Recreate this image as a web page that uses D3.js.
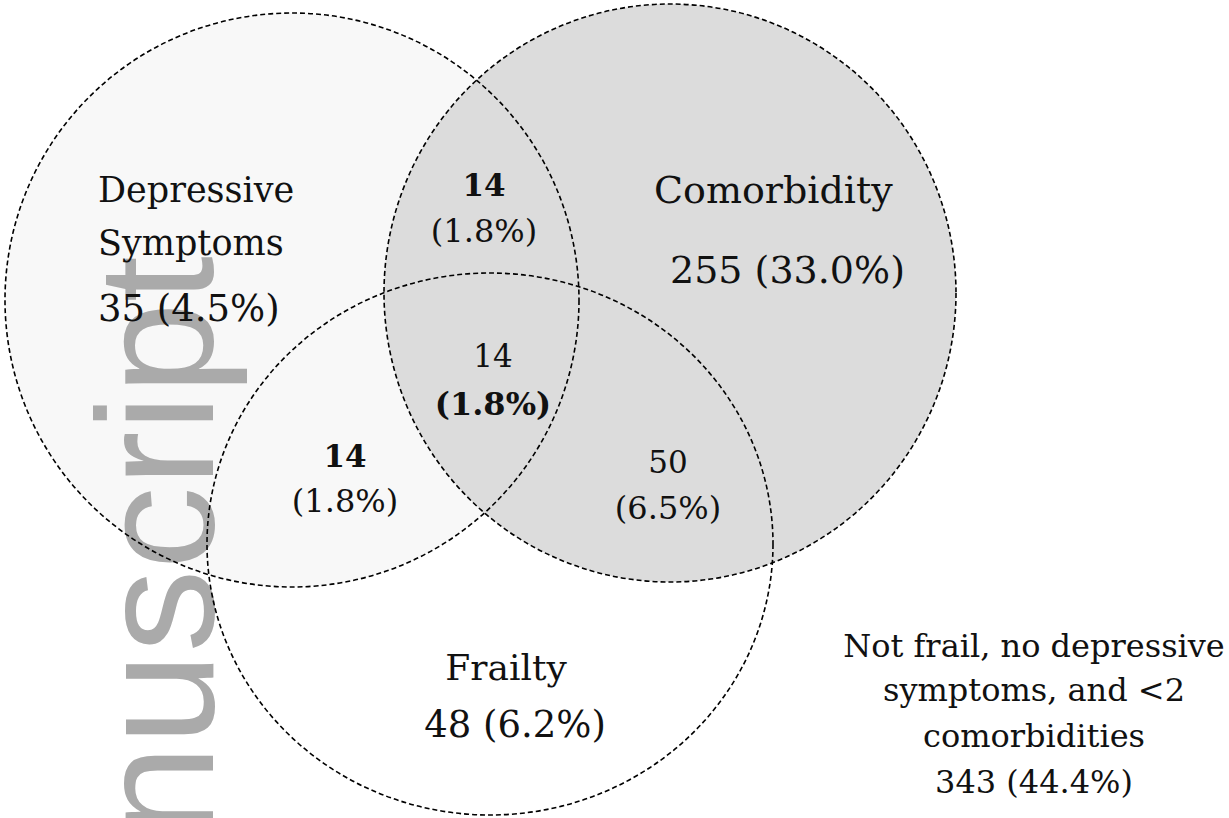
<!DOCTYPE html>
<html>
<head>
<meta charset="utf-8">
<script src="https://cdn.jsdelivr.net/npm/d3@7"></script>
<style>
  html, body { margin: 0; padding: 0; background: #ffffff; }
  svg { display: block; }
</style>
</head>
<body>
<script>
// ---------------- DATA ----------------
const setNames = ["Depressive Symptoms", "Comorbidity", "Frailty"];
const onlyCounts = [35, 255, 48];
const onlyPcts = [4.5, 33.0, 6.2];
const pairNames = ["Depressive ∩ Comorbidity", "Depressive ∩ Frailty", "Comorbidity ∩ Frailty"];
const pairCounts = [14, 14, 50];
const pairPcts = [1.8, 1.8, 6.5];
const tripleCount = [14];
const triplePct = [1.8];
const noneLabelLines = ["Not frail, no depressive", "symptoms, and <2", "comorbidities"];
const noneCount = [343];
const nonePct = [44.4];

// ---------------- LAYOUT (abstract units -> pixels via scales) ----------------
const W = 1229, H = 818;
const x = d3.scaleLinear().domain([0, 1229]).range([0, W]);
const y = d3.scaleLinear().domain([0, 818]).range([0, H]);

const circleLayout = [
  { cx: 292, cy: 300, rx: 287, ry: 287, fill: "#f8f8f8" },
  { cx: 670, cy: 293, rx: 286, ry: 289, fill: "#dcdcdc" },
  { cx: 490, cy: 544, rx: 283, ry: 271, fill: "none" }
];

const svg = d3.select("body").append("svg")
  .attr("width", W).attr("height", H)
  .attr("viewBox", `0 0 ${W} ${H}`);

const serif = "'DejaVu Serif', 'Liberation Serif', serif";

// fills
svg.append("g").selectAll("ellipse")
  .data(circleLayout)
  .join("ellipse")
  .attr("cx", d => x(d.cx)).attr("cy", d => y(d.cy))
  .attr("rx", d => x(d.rx) - x(0)).attr("ry", d => y(d.ry) - y(0))
  .attr("fill", d => d.fill)
  .attr("stroke", "none");

// watermark (cut off at the bottom edge, as in the reference)
svg.append("text")
  .attr("transform", `translate(${x(213)},${y(256)}) rotate(-90)`)
  .attr("text-anchor", "end")
  .attr("font-family", "'Liberation Sans', Arial, sans-serif")
  .attr("font-size", 166)
  .attr("fill", "#aaaaaa")
  .text("nuscript");

// outlines
svg.append("g").selectAll("ellipse")
  .data(circleLayout)
  .join("ellipse")
  .attr("cx", d => x(d.cx)).attr("cy", d => y(d.cy))
  .attr("rx", d => x(d.rx) - x(0)).attr("ry", d => y(d.ry) - y(0))
  .attr("fill", "none")
  .attr("stroke", "#000")
  .attr("stroke-width", 1.6)
  .attr("stroke-dasharray", "5,3");

// ---------------- LABELS ----------------
const fmtPct = p => `(${p.toFixed(1)}%)`;

const labels = [
  { lines: [{ t: "Depressive", size: 35 }, { t: "Symptoms", size: 35 }, { t: `${onlyCounts[0]} ${fmtPct(onlyPcts[0])}`, size: 37 }],
    x: 98, ys: [202, 255, 321], anchor: "start" },
  { lines: [{ t: "Comorbidity", size: 38 }, { t: `${onlyCounts[1]} ${fmtPct(onlyPcts[1])}`, size: 38 }],
    x: 654, ys: [203, 283], anchor: "start", xs: [654, 670] },
  { lines: [{ t: "Frailty", size: 36 }, { t: `${onlyCounts[2]} ${fmtPct(onlyPcts[2])}`, size: 37 }],
    x: 508, ys: [680, 737], anchor: "middle", xs: [506, 515] },
  { lines: [{ t: String(pairCounts[0]), size: 31, bold: true }, { t: fmtPct(pairPcts[0]), size: 32 }],
    x: 484, ys: [196, 242], anchor: "middle" },
  { lines: [{ t: String(pairCounts[1]), size: 31, bold: true }, { t: fmtPct(pairPcts[1]), size: 32 }],
    x: 345, ys: [467, 512], anchor: "middle" },
  { lines: [{ t: String(pairCounts[2]), size: 31 }, { t: fmtPct(pairPcts[2]), size: 32 }],
    x: 668, ys: [473, 519], anchor: "middle" },
  { lines: [{ t: String(tripleCount[0]), size: 31 }, { t: fmtPct(triplePct[0]), size: 32, bold: true }],
    x: 493, ys: [367, 415], anchor: "middle" },
  { lines: noneLabelLines.map(t => ({ t, size: 32 })).concat([{ t: `${noneCount[0]} ${fmtPct(nonePct[0])}`, size: 32 }]),
    x: 1034, ys: [657, 701, 747, 793], anchor: "middle" }
];

const lg = svg.append("g");
labels.forEach(lab => {
  lab.lines.forEach((ln, i) => {
    lg.append("text")
      .attr("x", x(lab.xs ? lab.xs[i] : lab.x))
      .attr("y", y(lab.ys[i]))
      .attr("text-anchor", lab.anchor)
      .attr("font-family", serif)
      .attr("font-size", ln.size)
      .attr("font-weight", ln.bold ? "bold" : "normal")
      .attr("fill", "#111")
      .text(ln.t);
  });
});
</script>
</body>
</html>
